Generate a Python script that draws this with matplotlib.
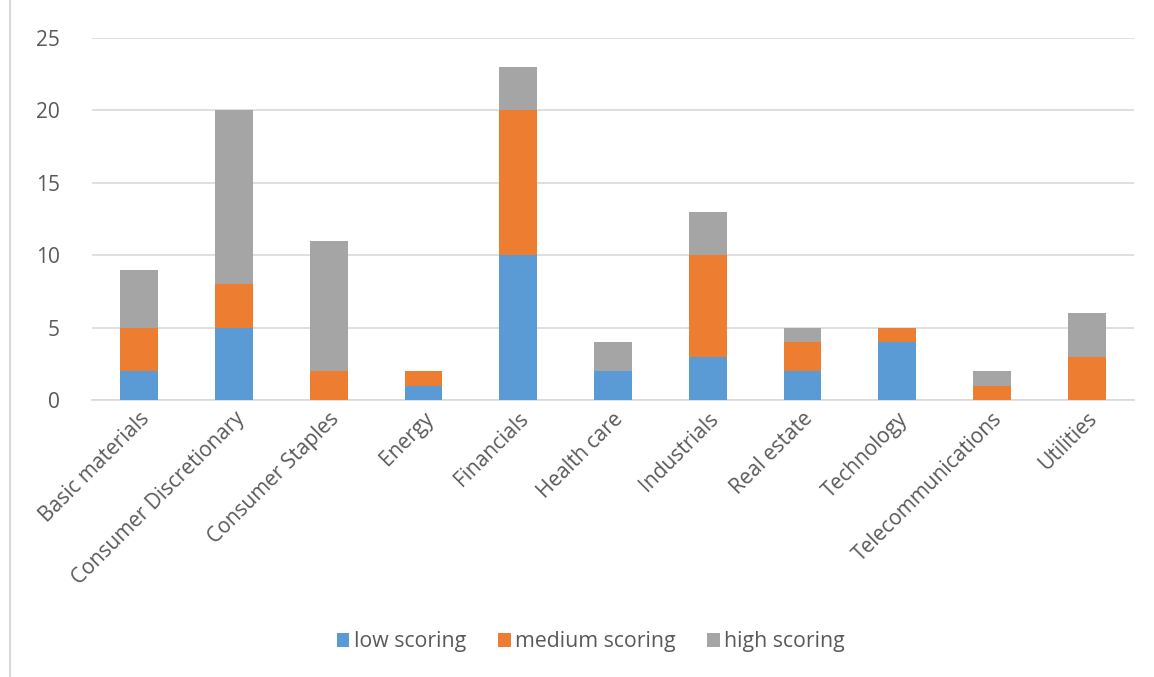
import matplotlib.pyplot as plt
from matplotlib.lines import Line2D
import numpy as np

sectors = ["Basic materials", "Consumer Discretionary", "Consumer Staples", "Energy",
           "Financials", "Health care", "Industrials", "Real estate", "Technology",
           "Telecommunications", "Utilities"]
low = [2, 5, 0, 1, 10, 2, 3, 2, 4, 0, 0]
medium = [3, 3, 2, 1, 10, 0, 7, 2, 1, 1, 3]
high = [4, 12, 9, 0, 3, 2, 3, 1, 0, 1, 3]

plt.rcParams["font.family"] = ["Open Sans", "DejaVu Sans"]
text_col = "#595959"

fig = plt.figure(figsize=(11.54, 6.77), dpi=100)
ax = fig.add_axes([0.0797, 0.409, 0.903, 0.535])

x = np.arange(len(sectors))
w = 0.4
low_a = np.array(low)
med_a = np.array(medium)
ax.bar(x, low, w, color="#5B9BD5", label="low scoring", zorder=3)
ax.bar(x, medium, w, bottom=low_a, color="#ED7D31", label="medium scoring", zorder=3)
ax.bar(x, high, w, bottom=low_a + med_a, color="#A5A5A5", label="high scoring", zorder=3)

ax.set_xlim(-0.5, len(sectors) - 0.5)
ax.set_ylim(0, 25)
ax.set_yticks(range(0, 26, 5))
ax.yaxis.grid(True, color="#D9D9D9", linewidth=1.2, zorder=0)
for s in ["top", "right", "left"]:
    ax.spines[s].set_visible(False)
ax.spines["bottom"].set_color("#D9D9D9")
ax.spines["bottom"].set_linewidth(1.2)
ax.tick_params(axis="both", length=0, colors=text_col, labelsize=15)
ax.tick_params(axis="y", pad=23)
ax.tick_params(axis="x", pad=6)
ax.set_xticks(x)
ax.set_xticklabels(sectors, rotation=45, ha="right", rotation_mode="anchor")

fig.legend(loc="center", bbox_to_anchor=(0.512, 0.052), ncol=3, frameon=False,
           fontsize=15.3, labelcolor=text_col, handlelength=0.6, handleheight=0.6,
           handletextpad=0.2, columnspacing=1.5)

fig.add_artist(Line2D([0.009, 0.009], [0, 1], transform=fig.transFigure,
                      color="#D9D9D9", linewidth=1.5))

fig.savefig("out.png")
